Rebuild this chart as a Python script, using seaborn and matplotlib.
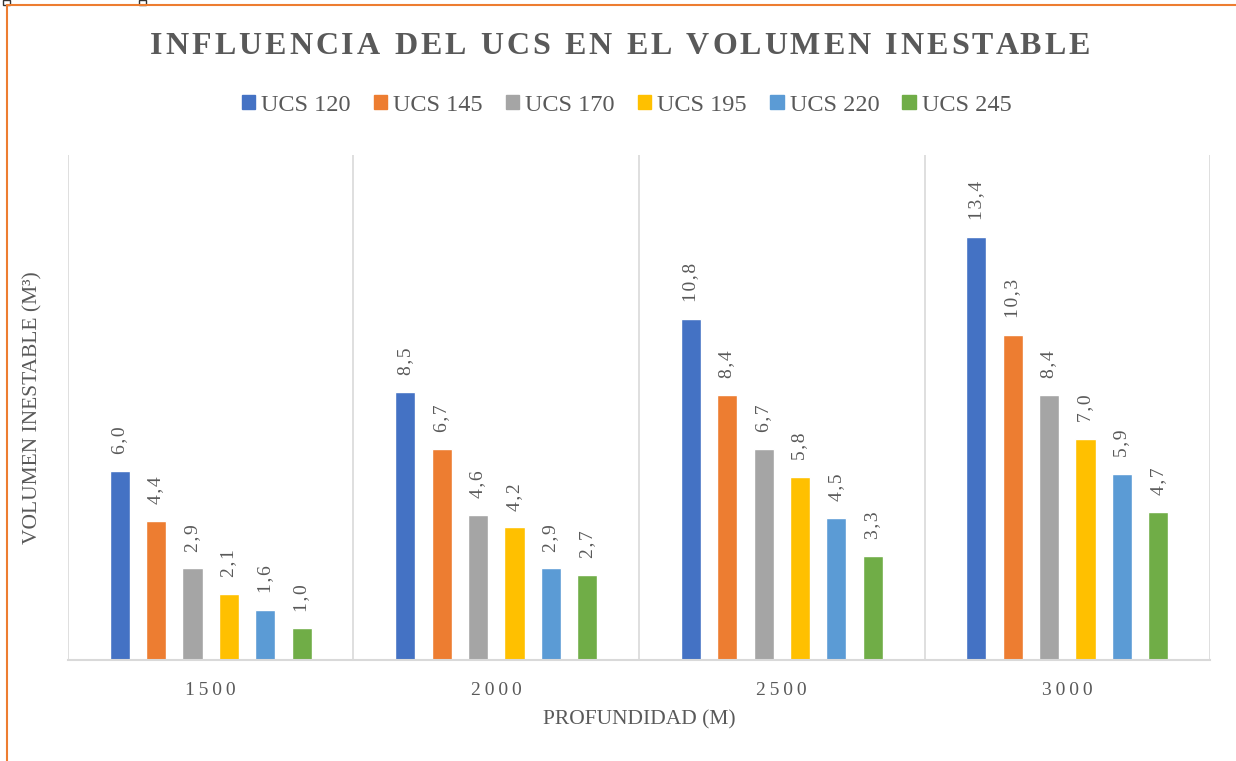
import matplotlib
matplotlib.use("Agg")
import matplotlib.pyplot as plt
import seaborn as sns
import pandas as pd
from matplotlib.patches import Rectangle
from matplotlib.font_manager import FontProperties

depths = ["1500", "2000", "2500", "3000"]
series = ["UCS 120", "UCS 145", "UCS 170", "UCS 195", "UCS 220", "UCS 245"]
ucs120 = [6.0, 8.5, 10.8, 13.4]
ucs145 = [4.4, 6.7, 8.4, 10.3]
ucs170 = [2.9, 4.6, 6.7, 8.4]
ucs195 = [2.1, 4.2, 5.8, 7.0]
ucs220 = [1.6, 2.9, 4.5, 5.9]
ucs245 = [1.0, 2.7, 3.3, 4.7]
colors = ["#4472C4", "#ED7D31", "#A5A5A5", "#FFC000", "#5B9BD5", "#70AD47"]
title = "INFLUENCIA DEL UCS EN EL VOLUMEN INESTABLE"

rows = []
for name, vals in zip(series, [ucs120, ucs145, ucs170, ucs195, ucs220, ucs245]):
    for d, v in zip(depths, vals):
        rows.append({"depth": d, "serie": name, "value": v})
df = pd.DataFrame(rows)

sns.set_theme(style="white")
plt.rcParams["font.family"] = ["Liberation Serif", "DejaVu Serif"]
TXT = "#595959"
HS = "\u200a"
W, H = 1236, 761

def spaced(s, sep=HS):
    return sep.join(s)

fig = plt.figure(figsize=(12.36, 7.61), dpi=100)
ax = fig.add_axes([0.055, 0.1327, 0.924, 0.6636])

sns.barplot(data=df, x="depth", y="value", hue="serie", order=depths,
            hue_order=series, palette=colors, width=0.766, gap=0.45,
            ax=ax, legend=False, saturation=1)

ax.set_ylim(0, 16)
ax.set_xlim(-0.5, 3.5)
ax.set_yticks([])
for x in [-0.5, 0.5, 1.5, 2.5, 3.5]:
    ax.axvline(x, color="#D9D9D9", lw=1.2, zorder=0)
for s in ["top", "left", "right"]:
    ax.spines[s].set_visible(False)
ax.spines["bottom"].set_color("#D9D9D9")
ax.spines["bottom"].set_linewidth(1.5)

ax.set_xticks(range(4))
ax.set_xticklabels([spaced(d, "\u2009") for d in depths], fontsize=14, color=TXT)
ax.tick_params(axis="x", length=0, pad=16)
ax.set_xlabel("PROFUNDIDAD (M)", fontsize=15.5, color=TXT, labelpad=8)
ax.set_ylabel("VOLUMEN INESTABLE (M³)", fontsize=15.5, color=TXT, labelpad=18)

for cont in ax.containers:
    ax.bar_label(cont, labels=[spaced(f"{b.get_height():.1f}".replace(".", ","))
                               for b in cont],
                 rotation=90, padding=12, fontsize=14, color=TXT)

# Title with letter tracking, placed character by character
renderer = fig.canvas.get_renderer()
tprop = FontProperties(family="Liberation Serif", weight="bold", size=23)

def tw(s):
    w, _, _ = renderer.get_text_width_height_descent(s, tprop, ismath=False)
    return w

words = title.split(" ")
space_w = tw("I I") - tw("II")
word_w = [tw(w) for w in words]
n_gaps_letters = sum(len(w) - 1 for w in words)
target_left, target_right = 150, 1090
total = target_right - target_left
t = (total - sum(word_w) - (len(words) - 1) * space_w) / (n_gaps_letters + 2 * (len(words) - 1))
x = target_left
ty = 1 - 46 / H
for w in words:
    for i, ch in enumerate(w):
        xi = x + (tw(w[:i]) if i else 0) + i * t
        fig.text(xi / W, ty, ch, ha="left", va="center", fontproperties=tprop,
                 color=TXT)
    x += tw(w) + (len(w) - 1) * t + space_w + 2 * t

handles = [Rectangle((0, 0), 1, 1, color=c) for c in colors]
fig.legend(handles, series, loc="center", bbox_to_anchor=(0.507, 0.862), ncol=6,
           frameon=False, prop={"family": "Liberation Serif", "size": 17.5},
           handlelength=0.55, handleheight=0.55,
           handletextpad=0.25, columnspacing=0.95, labelcolor=TXT)

# orange frame
fig.add_artist(plt.Line2D([7 / W, 7 / W], [0, 1 - 5 / H],
                          transform=fig.transFigure, color="#ED7D31", lw=1.5))
fig.add_artist(plt.Line2D([7 / W, 1], [1 - 5 / H, 1 - 5 / H],
                          transform=fig.transFigure, color="#ED7D31", lw=1.5))
for hx in [3, 139]:
    fig.add_artist(Rectangle((hx / W, 1 - 5 / H), 7 / W, 5 / H,
                             transform=fig.transFigure, facecolor="white",
                             edgecolor="#333333", lw=1))

fig.savefig("out.png", dpi=100)
